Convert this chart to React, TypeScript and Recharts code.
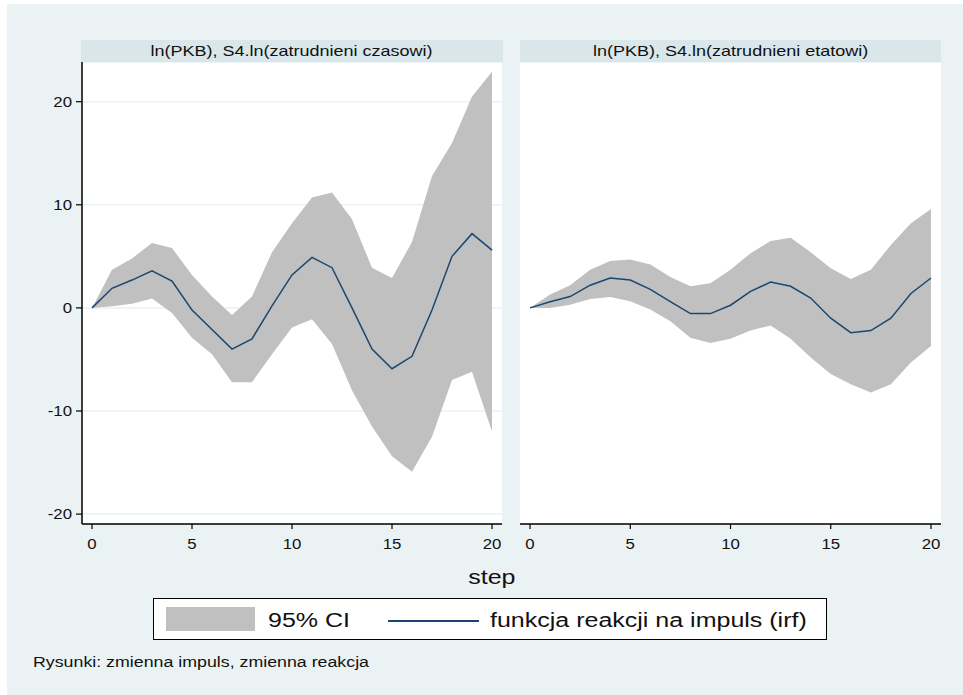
import React from "react";
import { ComposedChart, Area, Line, XAxis, YAxis, CartesianGrid } from "recharts";

const steps = [0, 1, 2, 3, 4, 5, 6, 7, 8, 9, 10, 11, 12, 13, 14, 15, 16, 17, 18, 19, 20];
const xTicks = [0, 5, 10, 15, 20];
const yTicks = [-20, -10, 0, 10, 20];

// ln(PKB), S4.ln(zatrudnieni czasowi)
const czasIrf = [0, 1.9, 2.7, 3.6, 2.6, -0.2, -2.1, -4.0, -3.0, 0.2, 3.2, 4.9, 3.9, 0, -4.0, -5.9, -4.7, -0.2, 5.0, 7.2, 5.6];
const czasLo = [0, 0.15, 0.4, 0.9, -0.5, -2.9, -4.5, -7.2, -7.2, -4.5, -1.9, -1.1, -3.5, -8.0, -11.5, -14.4, -15.9, -12.5, -7.0, -6.2, -12.0];
const czasHi = [0, 3.7, 4.8, 6.3, 5.8, 3.2, 1.1, -0.7, 1.1, 5.4, 8.2, 10.7, 11.2, 8.6, 3.9, 2.9, 6.4, 12.8, 16.0, 20.5, 22.9];

// ln(PKB), S4.ln(zatrudnieni etatowi)
const etatIrf = [0, 0.6, 1.1, 2.2, 2.9, 2.7, 1.8, 0.6, -0.55, -0.55, 0.26, 1.6, 2.5, 2.1, 0.96, -1.0, -2.4, -2.2, -1.0, 1.4, 2.9];
const etatLo = [0, 0, 0.3, 0.87, 1.06, 0.64, -0.16, -1.3, -2.9, -3.4, -3.0, -2.2, -1.7, -3.0, -4.8, -6.4, -7.4, -8.2, -7.4, -5.3, -3.7];
const etatHi = [0, 1.3, 2.2, 3.7, 4.55, 4.7, 4.2, 3.0, 2.1, 2.4, 3.7, 5.3, 6.5, 6.8, 5.4, 3.85, 2.8, 3.7, 6.1, 8.2, 9.6];

const titles = ["ln(PKB), S4.ln(zatrudnieni czasowi)", "ln(PKB), S4.ln(zatrudnieni etatowi)"];

const FONT = "'Liberation Sans', Arial, sans-serif";
const BG = "#eaf2f3";
const STRIP = "#d9e6ea";
const CI = "#c0c0c0";
const NAVY = "#1a476f";

const build = (irf: number[], lo: number[], hi: number[]) =>
  steps.map((s, i) => ({ step: s, irf: irf[i], band: [lo[i], hi[i]] }));

const XTick = (props: any) => {
  const { x, y, payload } = props;
  return (
    <g transform={`translate(${x},${y})`}>
      <text transform="scale(1.2,1)" textAnchor="middle" dy="0.71em" fontSize={14} fontFamily={FONT} fill="#111">
        {payload.value}
      </text>
    </g>
  );
};

const YTick = (props: any) => {
  const { x, y, payload } = props;
  return (
    <g transform={`translate(${x},${y})`}>
      <text transform="scale(1.2,1)" textAnchor="end" dy="0.355em" fontSize={14} fontFamily={FONT} fill="#111">
        {payload.value}
      </text>
    </g>
  );
};

function Panel({ data, showY, left, width }: { data: any[]; showY: boolean; left: number; width: number }) {
  return (
    <div style={{ position: "absolute", left, top: 62 }}>
      <ComposedChart width={width} height={506} data={data} margin={{ top: 0, right: 0, bottom: 0, left: 0 }}>
        <CartesianGrid vertical={false} stroke={BG} strokeWidth={1.5} fill="#ffffff" fillOpacity={1} />
        <XAxis
          dataKey="step"
          type="number"
          domain={[-0.5, 20.5]}
          ticks={xTicks}
          height={44}
          tickSize={5}
          tickMargin={10}
          axisLine={{ stroke: "#000", strokeWidth: 1.5 }}
          tickLine={{ stroke: "#000", strokeWidth: 1.2 }}
          tick={<XTick />}
          allowDataOverflow
        />
        <YAxis
          type="number"
          domain={[-20.96, 23.85]}
          ticks={yTicks}
          width={showY ? 82 : 0}
          tickSize={6}
          tickMargin={4}
          axisLine={showY ? { stroke: "#000", strokeWidth: 1.5 } : false}
          tickLine={showY ? { stroke: "#000", strokeWidth: 1.2 } : false}
          tick={showY ? <YTick /> : false}
          allowDataOverflow
        />
        <Area
          dataKey="band"
          type="linear"
          stroke="none"
          fill={CI}
          fillOpacity={1}
          isAnimationActive={false}
        />
        <Line dataKey="irf" type="linear" stroke={NAVY} strokeWidth={1.5} dot={false} isAnimationActive={false} />
      </ComposedChart>
    </div>
  );
}

const stretched = (text: string, size: number, sx: number, origin: string) => (
  <span style={{ display: "inline-block", fontSize: size, transform: `scaleX(${sx})`, transformOrigin: origin, whiteSpace: "nowrap" }}>
    {text}
  </span>
);

export default function App() {
  const left = build(czasIrf, czasLo, czasHi);
  const right = build(etatIrf, etatLo, etatHi);
  return (
    <div style={{ position: "absolute", left: 0, top: 0, width: 963, height: 695, background: "#fff", fontFamily: FONT, color: "#111" }}>
      <div style={{ position: "absolute", left: 7, top: 4, width: 956, height: 691, background: BG }} />

      <div style={{ position: "absolute", left: 81, top: 40, width: 422, height: 22, background: STRIP, textAlign: "center", lineHeight: "22px" }}>
        {stretched(titles[0], 15, 1.2, "center")}
      </div>
      <div style={{ position: "absolute", left: 520, top: 40, width: 421, height: 22, background: STRIP, textAlign: "center", lineHeight: "22px" }}>
        {stretched(titles[1], 15, 1.2, "center")}
      </div>

      <Panel data={left} showY left={0} width={502} />
      <Panel data={right} showY={false} left={520} width={421} />

      <div style={{ position: "absolute", left: 392, width: 200, top: 564, textAlign: "center", lineHeight: "26px" }}>
        {stretched("step", 20, 1.25, "center")}
      </div>

      <div style={{ position: "absolute", left: 153, top: 598, width: 672, height: 40, background: "#fff", border: "1.5px solid #000" }} />
      <div style={{ position: "absolute", left: 166, top: 607, width: 89, height: 24, background: CI }} />
      <div style={{ position: "absolute", left: 268, top: 607, lineHeight: "26px" }}>{stretched("95% CI", 20, 1.25, "left")}</div>
      <div style={{ position: "absolute", left: 388, top: 620, width: 91, height: 1.5, background: NAVY }} />
      <div style={{ position: "absolute", left: 490, top: 607, lineHeight: "26px" }}>
        {stretched("funkcja reakcji na impuls (irf)", 20, 1.25, "left")}
      </div>

      <div style={{ position: "absolute", left: 33, top: 653, lineHeight: "18px" }}>
        {stretched("Rysunki: zmienna impuls, zmienna reakcja", 14, 1.27, "left")}
      </div>
    </div>
  );
}
